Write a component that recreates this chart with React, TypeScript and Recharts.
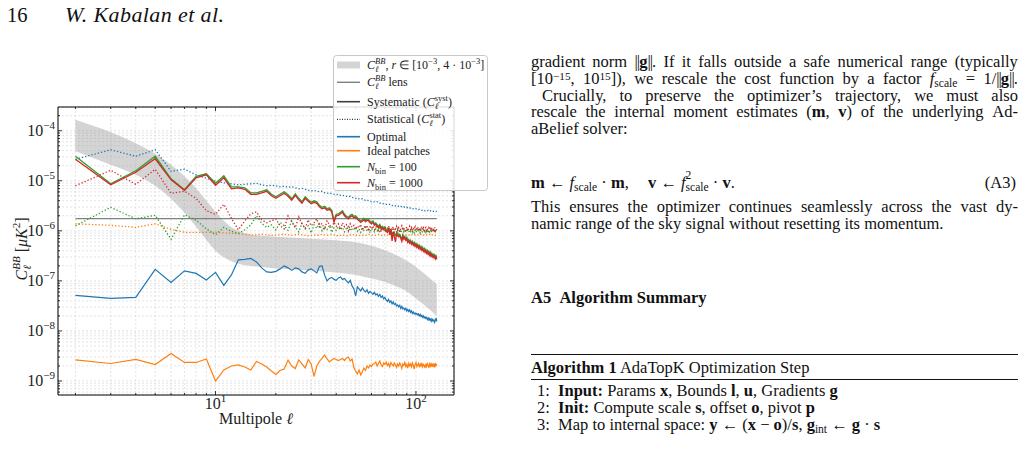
import React from "react";
import { ComposedChart, Line, Area, XAxis, YAxis, CartesianGrid, ReferenceArea } from "recharts";

// Multipoles l = 2 ... 127, one value per l. Values are log10 of C_l^BB [uK^2].
const ellStart = 2;

const optimalStatLog = [
  -4.57, -4.38, -4.51, -4.38, -4.81, -4.77, -4.88, -4.95, -5.01, -5.04,
  -5.06, -5.08, -5.07, -5.06, -5.05, -5.08, -5.10, -5.09, -5.10, -5.12,
  -5.11, -5.13, -5.12, -5.14, -5.16, -5.15, -5.17, -5.19, -5.20, -5.19,
  -5.21, -5.22, -5.21, -5.24, -5.25, -5.24, -5.26, -5.27, -5.28, -5.27,
  -5.29, -5.30, -5.29, -5.31, -5.32, -5.31, -5.33, -5.34, -5.35, -5.34,
  -5.36, -5.37, -5.36, -5.38, -5.39, -5.38, -5.40, -5.41, -5.42, -5.41,
  -5.42, -5.43, -5.42, -5.44, -5.45, -5.44, -5.45, -5.46, -5.46, -5.47,
  -5.47, -5.48, -5.47, -5.49, -5.49, -5.50, -5.49, -5.50, -5.51, -5.50,
  -5.51, -5.52, -5.51, -5.52, -5.53, -5.52, -5.53, -5.54, -5.53, -5.54,
  -5.55, -5.54, -5.55, -5.56, -5.55, -5.56, -5.56, -5.57, -5.56, -5.57,
  -5.57, -5.58, -5.57, -5.58, -5.58, -5.59, -5.58, -5.59, -5.59, -5.60,
  -5.59, -5.60, -5.60, -5.59, -5.60, -5.61, -5.60, -5.61, -5.61, -5.60,
  -5.61, -5.61, -5.62, -5.61, -5.61, -5.62,
];

const optimalSysLog = [
  -7.29, -7.35, -7.33, -6.77, -7.03, -6.80, -6.85, -6.98, -6.83, -7.09,
  -6.88, -6.58, -6.57, -6.55, -6.62, -6.74, -6.82, -6.83, -6.81, -6.76,
  -6.70, -6.74, -6.79, -6.74, -6.76, -6.82, -6.85, -6.78, -6.76, -6.80,
  -6.84, -6.71, -6.70, -6.88, -7.00, -6.95, -6.93, -6.97, -6.99, -6.94,
  -6.92, -6.97, -6.95, -7.00, -7.04, -6.99, -7.10, -7.16, -7.30, -7.12,
  -7.16, -7.20, -7.14, -7.19, -7.22, -7.18, -7.25, -7.21, -7.24, -7.27,
  -7.23, -7.28, -7.26, -7.31, -7.27, -7.33, -7.30, -7.36, -7.33, -7.38,
  -7.41, -7.37, -7.43, -7.40, -7.46, -7.42, -7.47, -7.45, -7.50, -7.48,
  -7.52, -7.49, -7.55, -7.51, -7.56, -7.54, -7.58, -7.55, -7.60, -7.57,
  -7.61, -7.58, -7.63, -7.60, -7.65, -7.62, -7.66, -7.64, -7.67, -7.65,
  -7.68, -7.66, -7.70, -7.67, -7.71, -7.69, -7.73, -7.70, -7.74, -7.72,
  -7.75, -7.73, -7.77, -7.74, -7.78, -7.75, -7.79, -7.76, -7.81, -7.77,
  -7.80, -7.78, -7.83, -7.79, -7.74, -7.81,
];

const idealStatLog = [
  -5.86, -5.89, -5.93, -5.86, -5.97, -6.03, -6.03, -6.03, -6.03, -6.04,
  -6.05, -6.06, -6.07, -6.08, -6.08, -6.07, -6.08, -6.09, -6.08, -6.08,
  -6.07, -6.08, -6.09, -6.08, -6.07, -6.08, -6.09, -6.10, -6.09, -6.08,
  -6.09, -6.08, -6.07, -6.08, -6.09, -6.08, -6.07, -6.08, -6.09, -6.10,
  -6.09, -6.08, -6.09, -6.10, -6.09, -6.08, -6.07, -6.08, -6.09, -6.08,
  -6.09, -6.10, -6.09, -6.08, -6.09, -6.08, -6.07, -6.08, -6.09, -6.08,
  -6.08, -6.09, -6.08, -6.07, -6.08, -6.09, -6.08, -6.09, -6.08, -6.07,
  -6.08, -6.09, -6.08, -6.08, -6.09, -6.08, -6.07, -6.08, -6.09, -6.08,
  -6.08, -6.09, -6.08, -6.07, -6.08, -6.08, -6.09, -6.08, -6.08, -6.07,
  -6.08, -6.09, -6.08, -6.08, -6.07, -6.08, -6.09, -6.08, -6.08, -6.07,
  -6.08, -6.08, -6.09, -6.08, -6.07, -6.08, -6.08, -6.09, -6.08, -6.08,
  -6.07, -6.08, -6.09, -6.08, -6.08, -6.07, -6.08, -6.09, -6.08, -6.08,
  -6.07, -6.08, -6.08, -6.09, -6.08, -6.07,
];

const idealSysLog = [
  -8.58, -8.65, -8.57, -8.67, -8.45, -8.63, -8.63, -8.56, -9.00, -8.78,
  -8.70, -8.68, -8.72, -8.78, -8.61, -8.66, -8.72, -8.80, -8.87, -8.79,
  -8.76, -8.58, -8.70, -8.75, -8.58, -8.66, -8.74, -8.57, -8.66, -8.91,
  -8.70, -8.61, -8.55, -8.48, -8.56, -8.62, -8.58, -8.55, -8.57, -8.59,
  -8.57, -8.55, -8.59, -8.54, -8.52, -8.60, -8.56, -8.73, -8.80, -8.86,
  -8.78, -8.88, -8.82, -8.74, -8.79, -8.70, -8.74, -8.68, -8.71, -8.66,
  -8.66, -8.62, -8.70, -8.65, -8.60, -8.68, -8.71, -8.64, -8.67, -8.62,
  -8.69, -8.65, -8.72, -8.63, -8.67, -8.70, -8.64, -8.68, -8.73, -8.66,
  -8.70, -8.64, -8.68, -8.75, -8.66, -8.69, -8.63, -8.71, -8.67, -8.74,
  -8.65, -8.70, -8.66, -8.72, -8.64, -8.69, -8.76, -8.67, -8.63, -8.71,
  -8.68, -8.65, -8.73, -8.66, -8.70, -8.64, -8.72, -8.67, -8.69, -8.74,
  -8.66, -8.71, -8.65, -8.68, -8.74, -8.66, -8.70, -8.64, -8.72, -8.67,
  -8.70, -8.65, -8.73, -8.66, -8.69, -8.66,
];

const nbin100SysLog = [
  -4.51, -5.06, -4.80, -4.51, -4.96, -5.18, -4.91, -4.86, -5.05, -4.90,
  -5.12, -5.12, -5.14, -5.24, -5.24, -5.21, -5.18, -5.27, -5.32, -5.27,
  -5.22, -5.28, -5.36, -5.26, -5.35, -5.42, -5.32, -5.38, -5.43, -5.40,
  -5.42, -5.49, -5.53, -5.51, -5.56, -5.54, -5.59, -5.79, -5.67, -5.66,
  -5.63, -5.60, -5.67, -5.71, -5.73, -5.69, -5.67, -5.71, -5.70, -5.74,
  -5.77, -5.80, -5.78, -5.75, -5.79, -5.76, -5.77, -5.81, -5.83, -5.80,
  -5.86, -5.84, -5.88, -5.90, -5.87, -5.93, -5.91, -5.94, -5.92, -5.97,
  -6.00, -5.96, -6.01, -5.99, -6.06, -6.03, -6.06, -6.09, -6.05, -6.04,
  -6.09, -6.07, -6.12, -6.16, -6.08, -6.14, -6.11, -6.16, -6.13, -6.20,
  -6.17, -6.22, -6.19, -6.24, -6.21, -6.26, -6.23, -6.28, -6.25, -6.30,
  -6.27, -6.32, -6.29, -6.34, -6.31, -6.36, -6.33, -6.38, -6.35, -6.40,
  -6.37, -6.42, -6.39, -6.44, -6.41, -6.46, -6.43, -6.48, -6.45, -6.50,
  -6.47, -6.51, -6.48, -6.53, -6.50, -6.54,
];

const nbin1000SysLog = [
  -4.57, -5.08, -4.83, -4.56, -4.98, -5.19, -4.94, -4.88, -5.09, -4.94,
  -5.16, -5.14, -5.17, -5.27, -5.27, -5.24, -5.21, -5.30, -5.35, -5.30,
  -5.25, -5.31, -5.39, -5.29, -5.38, -5.45, -5.35, -5.41, -5.46, -5.43,
  -5.45, -5.52, -5.56, -5.54, -5.59, -5.57, -5.62, -5.83, -5.70, -5.69,
  -5.66, -5.63, -5.70, -5.74, -5.76, -5.72, -5.70, -5.74, -5.73, -5.77,
  -5.80, -5.83, -5.81, -5.78, -5.82, -5.79, -5.80, -5.84, -5.86, -5.83,
  -5.89, -5.87, -5.91, -5.93, -5.90, -5.96, -5.94, -5.97, -5.95, -6.00,
  -6.03, -5.94, -6.08, -5.98, -6.20, -6.02, -6.12, -6.22, -6.06, -6.10,
  -6.12, -6.10, -6.15, -6.21, -6.11, -6.17, -6.14, -6.19, -6.16, -6.23,
  -6.20, -6.25, -6.22, -6.27, -6.24, -6.29, -6.26, -6.31, -6.28, -6.33,
  -6.30, -6.35, -6.32, -6.37, -6.34, -6.39, -6.36, -6.41, -6.38, -6.43,
  -6.40, -6.45, -6.42, -6.47, -6.44, -6.49, -6.46, -6.51, -6.48, -6.52,
  -6.50, -6.54, -6.51, -6.56, -6.53, -6.57,
];

const nbin100StatLog = [
  -5.90, -5.53, -5.76, -5.69, -6.17, -5.68, -5.79, -5.96, -6.08, -5.93,
  -6.01, -6.05, -5.98, -5.88, -5.70, -5.85, -5.93, -5.88, -5.98, -5.83,
  -5.90, -5.99, -5.80, -5.93, -6.02, -5.85, -5.96, -5.90, -6.04, -5.88,
  -5.95, -5.86, -6.00, -5.91, -5.97, -5.89, -6.03, -5.94, -5.99, -5.92,
  -5.98, -5.93, -6.02, -5.95, -5.91, -6.00, -5.94, -5.99, -5.93, -6.01,
  -5.96, -6.03, -5.95, -5.99, -5.93, -6.01, -5.97, -6.04, -5.95, -5.99,
  -6.02, -5.96, -6.00, -5.94, -6.03, -5.98, -5.95, -6.01, -5.97, -6.04,
  -5.98, -6.02, -5.96, -6.00, -5.95, -6.03, -5.99, -5.97, -6.02, -5.96,
  -6.01, -5.97, -6.04, -5.98, -5.95, -6.02, -5.99, -6.03, -5.96, -6.00,
  -6.03, -5.98, -6.01, -5.96, -6.02, -5.99, -6.04, -5.97, -6.00, -6.03,
  -5.98, -6.02, -5.99, -6.04, -5.97, -6.01, -6.03, -5.98, -6.02, -5.99,
  -6.03, -5.98, -6.01, -6.04, -5.99, -6.02, -5.97, -6.03, -6.00, -6.02,
  -5.99, -6.03, -6.00, -6.02, -5.98, -6.01,
];

const nbin1000StatLog = [
  -5.10, -4.79, -5.07, -4.77, -5.25, -5.21, -5.35, -5.60, -5.67, -5.47,
  -5.75, -5.98, -5.80, -5.66, -5.62, -5.78, -5.84, -5.80, -5.76, -5.90,
  -5.96, -5.70, -5.82, -5.94, -5.72, -5.86, -5.95, -5.78, -5.90, -5.84,
  -5.76, -5.92, -5.85, -5.98, -5.80, -5.88, -5.94, -5.83, -5.91, -5.86,
  -5.97, -5.84, -5.92, -5.88, -6.00, -5.86, -5.93, -5.89, -5.97, -5.90,
  -5.94, -5.87, -5.99, -5.91, -5.95, -5.89, -6.01, -5.92, -5.96, -5.90,
  -5.98, -5.93, -5.89, -5.99, -5.94, -6.02, -5.92, -5.97, -5.91, -6.00,
  -5.95, -5.90, -6.01, -5.94, -5.98, -5.92, -6.03, -5.96, -5.91, -5.99,
  -5.94, -6.02, -5.95, -5.90, -5.99, -5.93, -6.01, -5.96, -5.92, -6.00,
  -5.95, -5.91, -5.99, -5.94, -6.02, -5.93, -5.97, -5.92, -6.00, -5.95,
  -5.92, -5.99, -5.94, -6.01, -5.96, -5.91, -5.98, -5.94, -6.00, -5.95,
  -5.93, -5.99, -5.95, -6.02, -5.94, -5.97, -5.92, -5.99, -5.96, -6.01,
  -5.95, -5.98, -5.93, -6.00, -5.96, -5.99,
];

// Primordial BB band for r in [1e-3, 4e-3] (log10 of edges)
const bandEll = [2, 3, 4, 5, 6, 7, 8, 9, 10, 11, 12, 13, 14, 15, 17, 20, 25, 30, 40, 50, 60, 70, 80, 90, 100, 110, 120, 127];
const bandHighLog = [-3.78, -4.03, -4.25, -4.46, -4.68, -4.91, -5.15, -5.40, -5.62, -5.80, -5.93, -6.00, -6.05, -6.08, -6.10, -6.12, -6.14, -6.16, -6.19, -6.23, -6.30, -6.39, -6.49, -6.60, -6.72, -6.85, -6.98, -7.06];
const bandLowLog = [-4.41, -4.68, -4.88, -5.10, -5.36, -5.64, -5.92, -6.18, -6.40, -6.53, -6.61, -6.66, -6.69, -6.70, -6.72, -6.75, -6.77, -6.79, -6.83, -6.88, -6.95, -7.02, -7.11, -7.21, -7.35, -7.48, -7.61, -7.70];

const lensEll = [2, 127];
const lensValue = 1.76e-6;

// Axes
const X_MIN = 1.637;
const X_MAX = 154.8;
const Y_MIN = 5.25e-10;
const Y_MAX = 2.98e-4;
const xTickValues = [2, 3, 4, 5, 6, 7, 8, 9, 10, 20, 30, 40, 50, 60, 70, 80, 90, 100];
const yDecades = [-10, -9, -8, -7, -6, -5, -4];
const yMantissas = [1, 2, 3, 4, 5, 6, 7, 8, 9];
const yTickValues = yDecades
  .flatMap((d) => yMantissas.map((m) => m * Math.pow(10, d)))
  .filter((v) => v >= Y_MIN && v <= Y_MAX);

const BLUE = "#1f77b4";
const ORANGE = "#ff7f0e";
const GREEN = "#2ca02c";
const RED = "#d62728";
const SERIF = '"Liberation Serif", "Times New Roman", serif';

const PLOT_TOP = 107;
const PLOT_RIGHT = 454;

const rows = optimalStatLog.map((_, i) => ({
  ell: ellStart + i,
  optimalStat: Math.pow(10, optimalStatLog[i]),
  optimalSys: Math.pow(10, optimalSysLog[i]),
  idealStat: Math.pow(10, idealStatLog[i]),
  idealSys: Math.pow(10, idealSysLog[i]),
  nbin100Sys: Math.pow(10, nbin100SysLog[i]),
  nbin1000Sys: Math.pow(10, nbin1000SysLog[i]),
  nbin100Stat: Math.pow(10, nbin100StatLog[i]),
  nbin1000Stat: Math.pow(10, nbin1000StatLog[i]),
}));
const bandRows = bandEll.map((ell, i) => ({ ell, band: [Math.pow(10, bandLowLog[i]), Math.pow(10, bandHighLog[i])] }));
const lensRows = lensEll.map((ell) => ({ ell, lens: lensValue }));

function isMajor(v: number) {
  const lg = Math.log10(v);
  return Math.abs(lg - Math.round(lg)) < 1e-6;
}

function XTick(props: any) {
  const { x, y, payload } = props;
  const v = payload.value;
  const major = isMajor(v);
  const len = major ? 4 : 2;
  return (
    <g>
      <line x1={x} x2={x} y1={y} y2={y - len} stroke="#000" strokeWidth={0.8} />
      <line x1={x} x2={x} y1={PLOT_TOP} y2={PLOT_TOP + len} stroke="#000" strokeWidth={0.8} />
      {major && (
        <text x={x} y={y + 14} textAnchor="middle" fontFamily={SERIF} fontSize={16} fill="#222">
          10<tspan dy={-7} fontSize={11}>{Math.round(Math.log10(v))}</tspan>
        </text>
      )}
    </g>
  );
}

function YTick(props: any) {
  const { x, y, payload } = props;
  const v = payload.value;
  const major = isMajor(v);
  const len = major ? 4 : 2;
  const e = Math.round(Math.log10(v));
  return (
    <g>
      <line x1={x} x2={x + len} y1={y} y2={y} stroke="#000" strokeWidth={0.8} />
      <line x1={PLOT_RIGHT} x2={PLOT_RIGHT - len} y1={y} y2={y} stroke="#000" strokeWidth={0.8} />
      {major && (
        <text x={x - 3} y={y + 5.5} textAnchor="end" fontFamily={SERIF} fontSize={16} fill="#222">
          10<tspan dy={-7} fontSize={11}>{"\u2212" + Math.abs(e)}</tspan>
        </text>
      )}
    </g>
  );
}

const Sup = ({ children }: any) => (
  <span style={{ fontSize: "0.68em", position: "relative", top: "-0.4em", lineHeight: 0 }}>{children}</span>
);
const Sub = ({ children }: any) => (
  <span style={{ fontSize: "0.7em", position: "relative", top: "0.3em", lineHeight: 0 }}>{children}</span>
);
const SupSub = ({ sup, sub }: any) => (
  <span style={{ fontSize: "0.7em", position: "relative", display: "inline-block", lineHeight: 0 }}>
    <span style={{ position: "relative", top: "0.3em" }}>{sub}</span>
    <span style={{ position: "absolute", left: 0, top: "-0.75em" }}>{sup}</span>
  </span>
);
const Norm = ({ children }: any) => (
  <>
    <span style={{ letterSpacing: "-0.06em" }}>||</span>
    {children}
    <span style={{ letterSpacing: "-0.06em" }}>||</span>
  </>
);

const BODY_FS = 16.5;

function JLine({ top, left = 531, width = 487, words }: { top: number; left?: number; width?: number; words: React.ReactNode[] }) {
  return (
    <div
      style={{
        position: "absolute", left, top, width, display: "flex", justifyContent: "space-between",
        alignItems: "baseline", whiteSpace: "nowrap", fontSize: BODY_FS, lineHeight: "17px",
      }}
    >
      {words.map((w, i) => (
        <span key={i}>{w}</span>
      ))}
    </div>
  );
}

function PLine({ top, left = 531, children, style }: any) {
  return (
    <div style={{ position: "absolute", left, top, whiteSpace: "nowrap", fontSize: BODY_FS, lineHeight: "17px", ...style }}>
      {children}
    </div>
  );
}

function LegendBox() {
  const rowsY = [10, 27.3, 46.7, 64.3, 81.7, 95.7, 111.7, 127.7];
  const fs = 12;
  const tx = 34;
  const k0 = 4;
  const k1 = 27;
  const t = (i: number) => rowsY[i] + 4;
  return (
    <svg width={156} height={137} style={{ position: "absolute", left: 333, top: 55, overflow: "visible" }} fontFamily={SERIF} fontSize={fs}>
      <rect x={0.5} y={0.5} width={154} height={135} rx={3} fill="#fff" fillOpacity={0.85} stroke="#c8c8c8" />
      <rect x={k0} y={rowsY[0] - 3.5} width={k1 - k0} height={7} fill="#a0a0a0" fillOpacity={0.45} />
      <line x1={k0} x2={k1} y1={rowsY[1]} y2={rowsY[1]} stroke="#808080" strokeWidth={1.4} />
      <line x1={k0} x2={k1} y1={rowsY[2]} y2={rowsY[2]} stroke="#404040" strokeWidth={1.6} />
      <line x1={k0} x2={k1} y1={rowsY[3]} y2={rowsY[3]} stroke="#000" strokeWidth={1} strokeDasharray="1 1.5" />
      <line x1={k0} x2={k1} y1={rowsY[4]} y2={rowsY[4]} stroke={BLUE} strokeWidth={1.6} />
      <line x1={k0} x2={k1} y1={rowsY[5]} y2={rowsY[5]} stroke={ORANGE} strokeWidth={1.6} />
      <line x1={k0} x2={k1} y1={rowsY[6]} y2={rowsY[6]} stroke={GREEN} strokeWidth={1.6} />
      <line x1={k0} x2={k1} y1={rowsY[7]} y2={rowsY[7]} stroke={RED} strokeWidth={1.6} />
      <g fill="#222">
        <text x={tx} y={t(0)}>
          <tspan fontStyle="italic">C</tspan>
          <tspan fontStyle="italic" fontSize={8.5} dy={3}>ℓ</tspan>
          <tspan fontStyle="italic" fontSize={8.5} dx={-3.5} dy={-8}>BB</tspan>
          <tspan dy={5}>, </tspan>
          <tspan fontStyle="italic">r</tspan>
          <tspan> ∈ [10</tspan>
          <tspan fontSize={8.5} dy={-5}>{"\u22123"}</tspan>
          <tspan dy={5}>, 4 · 10</tspan>
          <tspan fontSize={8.5} dy={-5}>{"\u22123"}</tspan>
          <tspan dy={5}>]</tspan>
        </text>
        <text x={tx} y={t(1)}>
          <tspan fontStyle="italic">C</tspan>
          <tspan fontStyle="italic" fontSize={8.5} dy={3}>ℓ</tspan>
          <tspan fontStyle="italic" fontSize={8.5} dx={-3.5} dy={-8}>BB</tspan>
          <tspan dy={5}> lens</tspan>
        </text>
        <text x={tx} y={t(2)}>
          <tspan>Systematic (</tspan>
          <tspan fontStyle="italic">C</tspan>
          <tspan fontStyle="italic" fontSize={8.5} dy={3}>ℓ</tspan>
          <tspan fontSize={8.5} dx={-3.5} dy={-8}>syst</tspan>
          <tspan dy={5}>)</tspan>
        </text>
        <text x={tx} y={t(3)}>
          <tspan>Statistical (</tspan>
          <tspan fontStyle="italic">C</tspan>
          <tspan fontStyle="italic" fontSize={8.5} dy={3}>ℓ</tspan>
          <tspan fontSize={8.5} dx={-3.5} dy={-8}>stat</tspan>
          <tspan dy={5}>)</tspan>
        </text>
        <text x={tx} y={t(4)}>Optimal</text>
        <text x={tx} y={t(5)}>Ideal patches</text>
        <text x={tx} y={t(6)}>
          <tspan fontStyle="italic">N</tspan>
          <tspan fontSize={8.5} dy={3}>bin</tspan>
          <tspan dy={-3}> = 100</tspan>
        </text>
        <text x={tx} y={t(7)}>
          <tspan fontStyle="italic">N</tspan>
          <tspan fontSize={8.5} dy={3}>bin</tspan>
          <tspan dy={-3}> = 1000</tspan>
        </text>
      </g>
    </svg>
  );
}

function Chart() {
  const dotted = "1.3 2";
  return (
    <div style={{ position: "absolute", left: 0, top: 0 }}>
      <ComposedChart width={500} height={451} data={rows} margin={{ top: PLOT_TOP, right: 46, bottom: 0, left: 0 }}>
        <CartesianGrid stroke="#d2d2d2" strokeWidth={0.6} strokeDasharray="2 2" />
        <XAxis
          dataKey="ell" type="number" scale="log" domain={[X_MIN, X_MAX]} allowDataOverflow
          ticks={xTickValues} interval={0} tick={(p: any) => <XTick {...p} />}
          tickLine={false} axisLine={false} tickSize={0} tickMargin={0} height={56}
        />
        <YAxis
          type="number" scale="log" domain={[Y_MIN, Y_MAX]} allowDataOverflow
          ticks={yTickValues} interval={0} tick={(p: any) => <YTick {...p} />}
          tickLine={false} axisLine={false} tickSize={0} tickMargin={0} width={58}
        />
        <Area data={bandRows} dataKey="band" type="monotone" stroke="none" fill="#a0a0a0" fillOpacity={0.45} isAnimationActive={false} />
        <Line data={lensRows} dataKey="lens" type="linear" stroke="#808080" strokeWidth={1.3} dot={false} isAnimationActive={false} />
        <Line dataKey="optimalStat" type="linear" stroke={BLUE} strokeWidth={1.3} strokeDasharray={dotted} dot={false} isAnimationActive={false} />
        <Line dataKey="idealStat" type="linear" stroke={ORANGE} strokeWidth={1.3} strokeDasharray={dotted} dot={false} isAnimationActive={false} />
        <Line dataKey="nbin100Stat" type="linear" stroke={GREEN} strokeWidth={1.3} strokeDasharray={dotted} dot={false} isAnimationActive={false} />
        <Line dataKey="nbin1000Stat" type="linear" stroke={RED} strokeWidth={1.3} strokeDasharray={dotted} dot={false} isAnimationActive={false} />
        <Line dataKey="optimalSys" type="linear" stroke={BLUE} strokeWidth={1.2} dot={false} isAnimationActive={false} />
        <Line dataKey="idealSys" type="linear" stroke={ORANGE} strokeWidth={1.2} dot={false} isAnimationActive={false} />
        <Line dataKey="nbin100Sys" type="linear" stroke={GREEN} strokeWidth={1.3} dot={false} isAnimationActive={false} />
        <Line dataKey="nbin1000Sys" type="linear" stroke={RED} strokeWidth={1.3} dot={false} isAnimationActive={false} />
        <ReferenceArea x1={X_MIN} x2={X_MAX} y1={Y_MIN} y2={Y_MAX} fill="none" stroke="#000" strokeWidth={1} />
      </ComposedChart>
      <svg width={500} height={451} style={{ position: "absolute", left: 0, top: 0, pointerEvents: "none" }} fontFamily={SERIF}>
        <text x={256} y={424} textAnchor="middle" fontSize={16} fill="#222">
          Multipole <tspan fontStyle="italic">ℓ</tspan>
        </text>
        <g transform="translate(27,249) rotate(-90)">
          <text x={0} y={0} textAnchor="middle" fontSize={16} fill="#222">
            <tspan fontStyle="italic">C</tspan>
            <tspan fontStyle="italic" fontSize={11} dy={4}>ℓ</tspan>
            <tspan fontStyle="italic" fontSize={11} dx={-4.5} dy={-11}>BB</tspan>
            <tspan dy={7}> [</tspan>
            <tspan fontStyle="italic">μK</tspan>
            <tspan fontSize={11} dy={-7}>2</tspan>
            <tspan dy={7}>]</tspan>
          </text>
        </g>
      </svg>
      <LegendBox />
    </div>
  );
}

export default function App() {
  return (
    <div
      style={{
        position: "absolute", left: 0, top: 0, width: 1023, height: 451, background: "#fff",
        overflow: "hidden", fontFamily: SERIF, color: "#111",
      }}
    >
      <div style={{ position: "absolute", left: 7, top: 5, fontSize: 20.5, lineHeight: "21px" }}>16</div>
      <div style={{ position: "absolute", left: 65, top: 4, fontSize: 22, lineHeight: "22px", fontStyle: "italic", letterSpacing: "0.4px" }}>
        W. Kabalan et al.
      </div>

      <Chart />

      <JLine top={53} words={["gradient", "norm", <><Norm><b>g</b></Norm>.</>, "If", "it", "falls", "outside", "a", "safe", "numerical", "range", "(typically"]} />
      <JLine
        top={70}
        words={[
          <>[10<Sup>−15</Sup>,</>, <>10<Sup>15</Sup>]),</>, "we", "rescale", "the", "cost", "function", "by", "a", "factor",
          <><i>f</i><Sub>scale</Sub></>, "=", <>1/<Norm><b>g</b></Norm>.</>,
        ]}
      />
      <JLine top={87} left={542} width={476} words={["Crucially,", "to", "preserve", "the", "optimizer’s", "trajectory,", "we", "must", "also"]} />
      <JLine
        top={103}
        words={["rescale", "the", "internal", "moment", "estimates", <>(<b>m</b>,</>, <><b>v</b>)</>, "of", "the", "underlying", "Ad-"]}
      />
      <PLine top={120}>aBelief solver:</PLine>

      <PLine top={174}>
        <b>m</b> ← <i>f</i><Sub>scale</Sub> · <b>m</b>,
      </PLine>
      <PLine top={174} left={648}>
        <b>v</b> ← <i>f</i><SupSub sup="2" sub="scale" /> · <b>v</b>.
      </PLine>
      <PLine top={174} left={900} style={{ width: 116, textAlign: "right" }}>(A3)</PLine>

      <JLine top={198} words={["This", "ensures", "the", "optimizer", "continues", "seamlessly", "across", "the", "vast", "dy-"]} />
      <PLine top={215}>namic range of the sky signal without resetting its momentum.</PLine>

      <PLine top={289} style={{ fontWeight: "bold" }}>
        A5&nbsp;&nbsp;Algorithm Summary
      </PLine>

      <div style={{ position: "absolute", left: 531, top: 354, width: 487, height: 1.3, background: "#111" }} />
      <PLine top={359}>
        <b>Algorithm 1</b> AdaTopK Optimization Step
      </PLine>
      <div style={{ position: "absolute", left: 531, top: 379, width: 487, height: 0.8, background: "#111" }} />
      <PLine top={382} left={537}>
        1:&nbsp; <b>Input:</b> Params <b>x</b>, Bounds <b>l</b>, <b>u</b>, Gradients <b>g</b>
      </PLine>
      <PLine top={399} left={537}>
        2:&nbsp; <b>Init:</b> Compute scale <b>s</b>, offset <b>o</b>, pivot <b>p</b>
      </PLine>
      <PLine top={416} left={537}>
        3:&nbsp; Map to internal space: <b>y</b> ← (<b>x</b> − <b>o</b>)/<b>s</b>, <b>g</b>
        <Sub>int</Sub> ← <b>g</b> · <b>s</b>
      </PLine>
    </div>
  );
}
